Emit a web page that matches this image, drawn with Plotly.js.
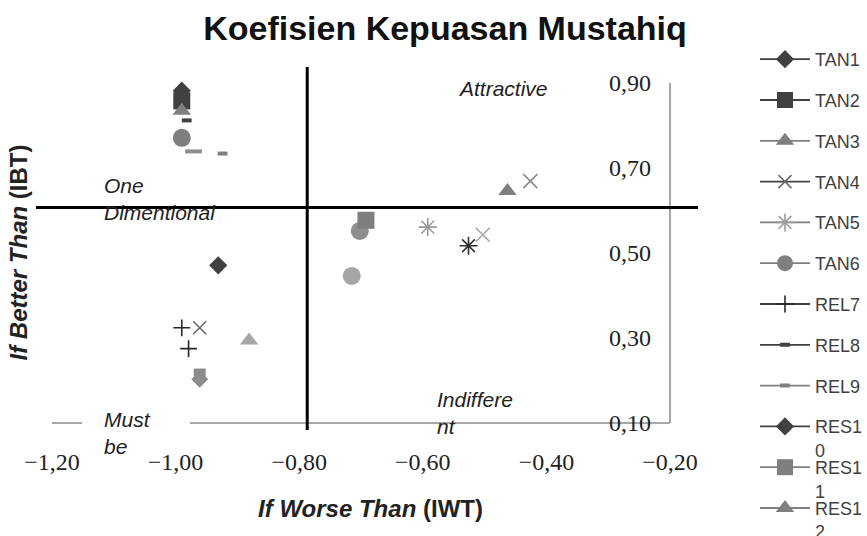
<!DOCTYPE html>
<html>
<head>
<meta charset="utf-8">
<script src="https://cdn.plot.ly/plotly-3.0.1.min.js"></script>
<style>html,body{margin:0;padding:0;background:#fff}#chart{width:867px;height:536px}</style>
</head>
<body>
<div id="chart"></div>
<script>
// ---- data ----
// series shown in the legend, one point each: IWT (x) and IBT (y)
const seriesNames = ['TAN1','TAN2','TAN3','TAN4','TAN5','TAN6','REL7','REL8','REL9','RES10','RES11','RES12'];
const seriesIWT = [-0.990,-0.990,-0.990,-0.961,-0.592,-0.990,-0.990,-0.982,-0.924,-0.931,-0.692,-0.463];
const seriesIBT = [0.882,0.858,0.835,0.324,0.561,0.771,0.324,0.812,0.734,0.471,0.577,0.646];
// further items whose legend entries are cut off in the original
const extraIWT = [-0.426,-0.526,-0.702,-0.979,-0.971,-0.961,-0.961,-0.881,-0.503,-0.715];
const extraIBT = [0.669,0.517,0.552,0.275,0.739,0.214,0.203,0.294,0.543,0.446];
// quadrant dividers
const dividerIWT = -0.787;
const dividerIBT = 0.607;
// ticks
const xTicks = [-1.2,-1.0,-0.8,-0.6,-0.4,-0.2];
const yTicks = [0.1,0.3,0.5,0.7,0.9];
// quadrant labels (anchored at the top-left / top-centre of the text)
const quadrantText = ['Attractive','One<br>Dimentional','Indiffere<br>nt','Must<br>be'];
const quadrantIWT = [-0.470,-1.119,-0.580,-1.119];
const quadrantIBT = [0.920,0.690,0.188,0.140];

// ---- styles ----
const DARK='#404040', MID='#7f7f7f', LIGHT='#a6a6a6';
const seriesStyle = [
  {symbol:'diamond', color:DARK, line:DARK, size:14},
  {symbol:'square', color:DARK, line:DARK, size:17},
  {symbol:'triangle-up', color:MID, line:MID, size:16},
  {symbol:'x-thin', color:'#6a6a6a', line:DARK, size:13},
  {symbol:'asterisk', color:'#9a9a9a', line:MID, size:15},
  {symbol:'circle', color:MID, line:MID, size:18},
  {symbol:'cross-thin', color:'#262626', line:DARK, size:12},
  {symbol:'line-ew', color:DARK, line:DARK, size:7},
  {symbol:'line-ew', color:MID, line:MID, size:7},
  {symbol:'diamond', color:DARK, line:DARK, size:14},
  {symbol:'square', color:MID, line:MID, size:17},
  {symbol:'triangle-up', color:MID, line:MID, size:16}
];
const extraStyle = [
  {symbol:'x-thin', color:'#8a8a8a', size:14},
  {symbol:'asterisk', color:'#303030', size:15},
  {symbol:'circle', color:'#8f8f8f', size:18},
  {symbol:'cross-thin', color:'#262626', size:12},
  {symbol:'line-ew', color:'#8f8f8f', size:12},
  {symbol:'square', color:'#8c8c8c', size:12},
  {symbol:'diamond', color:'#8c8c8c', size:13},
  {symbol:'triangle-up', color:LIGHT, size:16},
  {symbol:'x-thin', color:LIGHT, size:14},
  {symbol:'circle', color:LIGHT, size:18}
];
const THIN = ['x-thin','asterisk','cross-thin','line-ew'];

// ---- pixel frame ----
const W=867, H=536;
const PL=36, PR=705, PT=60, PB=445;
const xOfPx = px => -1.2 + (px-52)/618;
const yOfPx = py => 0.1 + (423-py)/425;
const xRange = [xOfPx(PL), xOfPx(PR)];
const yRange = [yOfPx(PB), yOfPx(PT)];
const paperY = py => (PB-py)/(PB-PT);
const paperX = px => (px-PL)/(PR-PL);

function markerOf(st){
  const thin = THIN.includes(st.symbol);
  return {symbol:st.symbol, color:st.color, size:st.size,
    line:{color:st.color, width: thin ? (st.symbol==='line-ew'?4:1.6) : 0}};
}

const wrapName = n => n.length > 4 ? n.slice(0,4)+'<br>'+n.slice(4) : n;

const traces = [];
// empty trace so that the right-hand value axis (y2) is built
traces.push({type:'scatter', mode:'markers', x:[], y:[], yaxis:'y2', showlegend:false, hoverinfo:'skip'});
extraIWT.forEach((x,i)=>{
  traces.push({type:'scatter', mode:'markers', x:[x], y:[extraIBT[i]],
    name:'item '+(i+13), showlegend:false, marker:markerOf(extraStyle[i]), hoverinfo:'x+y'});
});
seriesNames.forEach((n,i)=>{
  const st = seriesStyle[i];
  traces.push({type:'scatter', mode:'lines+markers', x:[seriesIWT[i]], y:[seriesIBT[i]],
    name:wrapName(n), legend: i===0 ? 'legend' : 'legend'+(i+1),
    line:{color:st.line, width:1.8}, marker:markerOf(st)});
});

const LINE_C='#8a8a8a';
const layout = {
  width:W, height:H, autosize:false,
  margin:{l:PL, r:W-PR, t:PT, b:H-PB, autoexpand:false},
  paper_bgcolor:'#fff', plot_bgcolor:'#fff',
  separators:', ',
  font:{family:'Liberation Sans, Arial, sans-serif', color:'#222'},
  title:{text:'<b>Koefisien Kepuasan Mustahiq</b>', x:445/W, xanchor:'center', y:1-28/H, yanchor:'middle',
    font:{family:'Liberation Sans, Arial, sans-serif', size:34, color:'#111'}},
  xaxis:{range:xRange, tickvals:xTicks, tickformat:'.2f', showgrid:false, zeroline:false, showline:false,
    ticks:'', automargin:false,
    tickfont:{family:'Liberation Serif, Times New Roman, serif', size:24, color:'#222'},
    title:{text:'<b><i>If Worse Than</i> (IWT)</b>', standoff:26,
      font:{family:'Liberation Sans, Arial, sans-serif', size:24, color:'#222'}}},
  yaxis:{range:yRange, showticklabels:false, showgrid:false, zeroline:false, showline:false, ticks:'',
    automargin:false,
    title:{text:'<b><i>If Better Than</i> (IBT)</b>', standoff:0,
      font:{family:'Liberation Sans, Arial, sans-serif', size:24, color:'#222'}}},
  yaxis2:{range:yRange, overlaying:'y', anchor:'free', position:paperX(672), side:'left',
    tickvals:yTicks, tickformat:'.2f', showgrid:false, zeroline:false, showline:false, ticks:'',
    automargin:false, ticklabelstandoff:21,
    tickfont:{family:'Liberation Serif, Times New Roman, serif', size:24, color:'#222'}},
  shapes:[
    {type:'line', layer:'below', x0:-1.2, x1:-0.2, y0:yTicks[0], y1:yTicks[0], line:{color:LINE_C, width:1.5}},
    {type:'line', layer:'below', x0:-0.2, x1:-0.2, y0:yTicks[0], y1:yTicks[yTicks.length-1], line:{color:LINE_C, width:1.5}},
    {type:'rect', layer:'below', x0:xOfPx(82), x1:xOfPx(190), y0:yOfPx(432), y1:yOfPx(414), fillcolor:'#fff', line:{width:0}},
    {type:'line', layer:'below', x0:dividerIWT, x1:dividerIWT, y0:yOfPx(430), y1:yOfPx(67), line:{color:'#000', width:3}},
    {type:'line', layer:'below', x0:xOfPx(33), x1:xOfPx(698), y0:dividerIBT, y1:dividerIBT, line:{color:'#000', width:3}}
  ],
  annotations: quadrantText.map((t,i)=>({
    text:'<i>'+t+'</i>', x:quadrantIWT[i], y:quadrantIBT[i], xref:'x', yref:'y',
    xanchor: i===0 ? 'center' : 'left', yanchor:'top', align:'left', showarrow:false,
    font:{family:'Liberation Sans, Arial, sans-serif', size:21, color:'#222'}
  }))
};

const LEG_TOP=58, LEG_STEP=40.8;
seriesNames.forEach((n,i)=>{
  const key = i===0 ? 'legend' : 'legend'+(i+1);
  layout[key] = {x:paperX(755), xanchor:'left', y:paperY(LEG_TOP + LEG_STEP*i - 17), yanchor:'top',
    bgcolor:'rgba(0,0,0,0)', borderwidth:0, itemwidth:50, itemsizing:'trace', valign:'top',
    font:{family:'Liberation Sans, Arial, sans-serif', size:18, color:'#404040'}};
});

Plotly.newPlot('chart', traces, layout, {displayModeBar:false, staticPlot:true});
</script>
</body>
</html>
